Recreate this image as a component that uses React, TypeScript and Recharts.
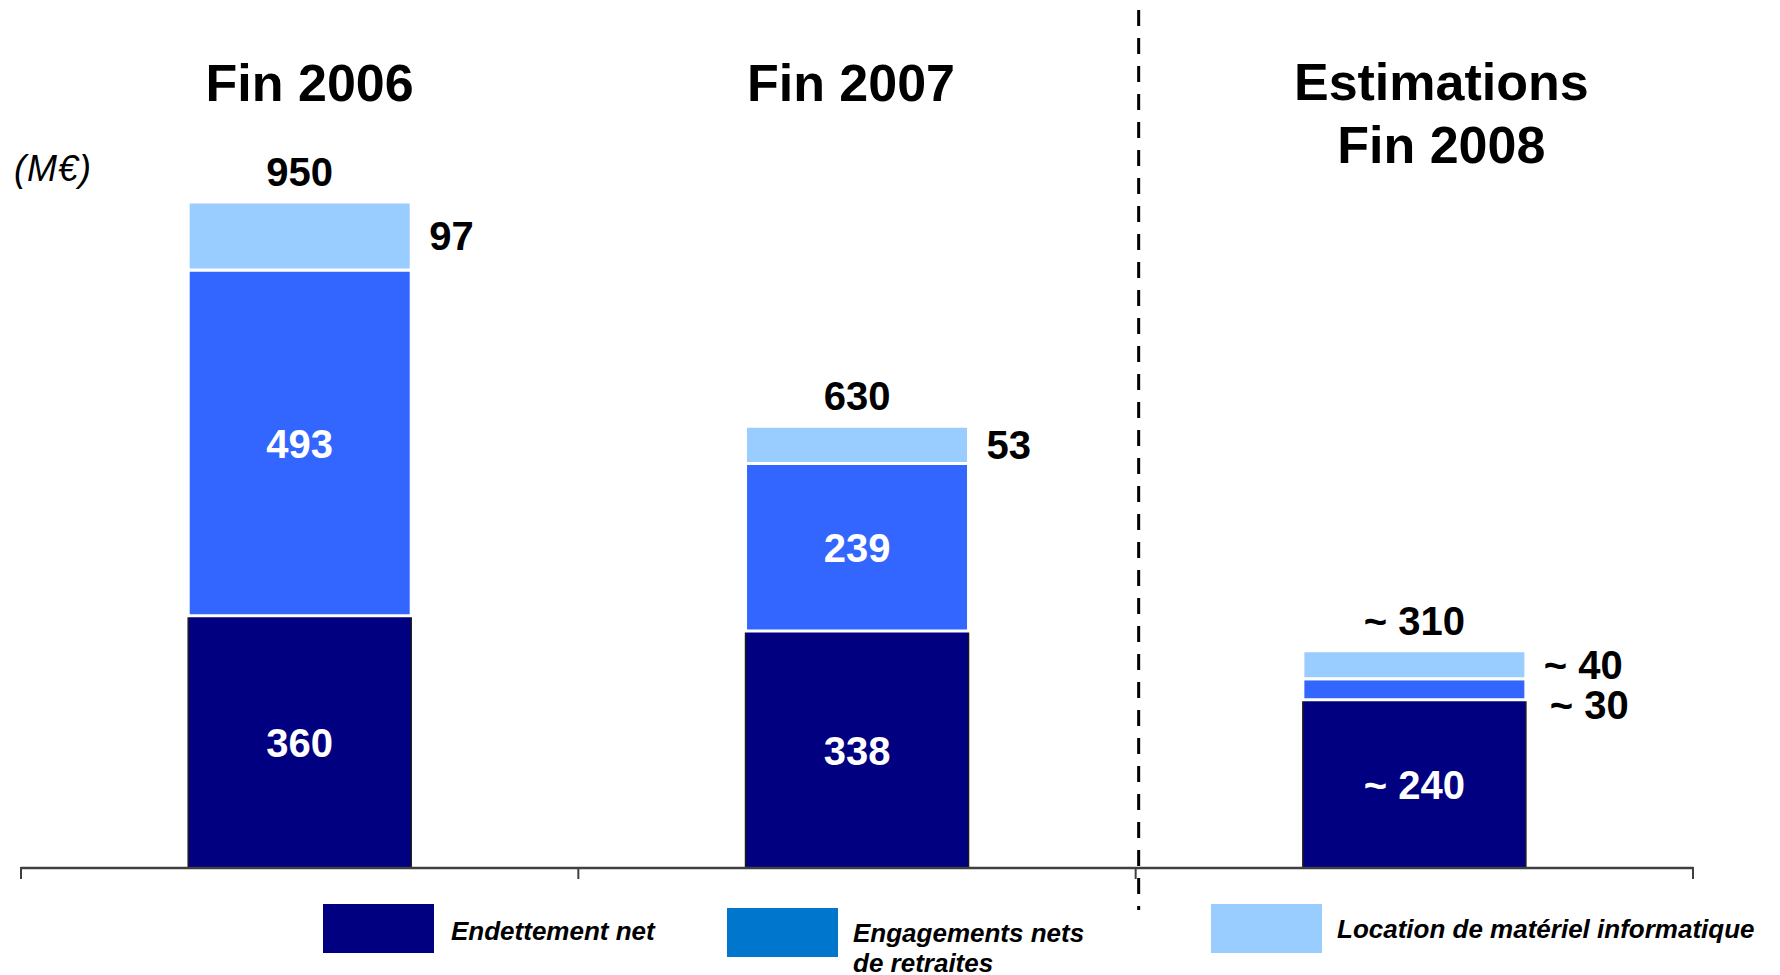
import { BarChart, Bar, XAxis, YAxis, LabelList, ReferenceLine } from 'recharts'

const CATEGORIES = ['Fin 2006', 'Fin 2007', 'Estimations\nFin 2008']
const ENDETTEMENT = [360, 338, 240]
const RETRAITES = [493, 239, 30]
const LOCATION = [97, 53, 40]
const TOTALS = [950, 630, 310]
const ESTIMATED = [false, false, true]
const Y_DOMAIN = [0, 1000]

const SERIES_NAMES = ['Endettement net', 'Engagements nets\nde retraites', 'Location de matériel informatique']
const BAR_COLORS = ['#000080', '#3366FF', '#99CCFF']
const LEGEND_COLORS = ['#000080', '#0077CC', '#99CCFF']

const FONT = '"Liberation Sans", Arial, sans-serif'
const TITLE_NUDGE = [10, -6, 27]

const data = CATEGORIES.map((name, i) => ({
  name,
  endettement: ENDETTEMENT[i],
  retraites: RETRAITES[i],
  location: LOCATION[i],
  total: TOTALS[i],
}))

const fmt = (v: any, i: number) => (ESTIMATED[i] ? `~ ${v}` : `${v}`)

function TitleTick(props: any) {
  const { x, payload, index } = props
  const lines = String(payload.value).split('\n')
  const cx = x + TITLE_NUDGE[index ?? payload.index ?? 0]
  return (
    <text x={cx} textAnchor="middle" fontFamily={FONT} fontSize={52} fontWeight="bold" fill="#000">
      {lines.map((l, k) => (
        <tspan key={k} x={cx} y={lines.length > 1 ? 100 + k * 63 : 101}>
          {l}
        </tspan>
      ))}
    </text>
  )
}

// tick marks sit on the category boundaries, not on the centres
function EdgeTick(props: any) {
  const x = Number(props.x), y = Number(props.y)
  const count = Number(props.visibleTicksCount) || CATEGORIES.length
  let band = Number(props.width) / count
  if (!isFinite(band) || band <= 0) band = 557
  const last = props.index === count - 1
  return (
    <g>
      <line x1={x - band / 2} x2={x - band / 2} y1={y - 1} y2={y + 11} stroke="#404040" strokeWidth={2} />
      {last && <line x1={x + band / 2} x2={x + band / 2} y1={y - 1} y2={y + 11} stroke="#404040" strokeWidth={2} />}
    </g>
  )
}

const valueText = { fontFamily: FONT, fontSize: 40, fontWeight: 'bold' as const }

function InsideLabel(props: any) {
  const x = Number(props.x), y = Number(props.y), w = Number(props.width), h = Number(props.height)
  return (
    <text x={x + w / 2} y={y + h / 2 + 15} textAnchor="middle" fill="#fff" {...valueText}>
      {fmt(props.value, props.index)}
    </text>
  )
}

function RetraitesLabel(props: any) {
  const x = Number(props.x), y = Number(props.y), w = Number(props.width), h = Number(props.height)
  if (h < 60) {
    // too thin: put it outside, a bit lower than the segment
    return (
      <text x={x + w + 24} y={y + h / 2 + 30} fill="#000" {...valueText}>
        {fmt(props.value, props.index)}
      </text>
    )
  }
  return <InsideLabel {...props} />
}

function SideLabel(props: any) {
  const x = Number(props.x), y = Number(props.y), w = Number(props.width), h = Number(props.height)
  return (
    <text x={x + w + 18} y={y + h / 2 + 14} fill="#000" {...valueText}>
      {fmt(props.value, props.index)}
    </text>
  )
}

function TotalLabel(props: any) {
  const x = Number(props.x), y = Number(props.y), w = Number(props.width)
  return (
    <text x={x + w / 2} y={y - 16} textAnchor="middle" fill="#000" {...valueText}>
      {fmt(props.value, props.index)}
    </text>
  )
}

function Divider(props: any) {
  return <line x1={props.x1 + 3} x2={props.x2 + 3} y1={10} y2={910} stroke="#000" strokeWidth={3} strokeDasharray="16 12" />
}

export default function App() {
  const legendPos = [
    { sw: [323, 904], tx: [451, 916] },
    { sw: [727, 908], tx: [853, 918] },
    { sw: [1211, 904], tx: [1337, 914] },
  ]
  return (
    <div style={{ position: 'absolute', left: 0, top: 0, width: 1780, height: 975, background: '#fff', fontFamily: FONT }}>
      <BarChart
        width={1780}
        height={975}
        data={data}
        margin={{ top: 67, right: 87, bottom: 77, left: 21 }}
        barCategoryGap="30%"
      >
        <XAxis xAxisId="top" dataKey="name" orientation="top" height={100} axisLine={false} tickLine={false} interval={0} tick={<TitleTick />} />
        <XAxis
          xAxisId="edges"
          dataKey="name"
          interval={0}
          tickSize={0}
          tickMargin={0}
          tickLine={false}
          tick={<EdgeTick />}
          height={30}
          axisLine={{ stroke: '#404040', strokeWidth: 2.5 }}
        />
        <YAxis hide domain={Y_DOMAIN} />
        <ReferenceLine xAxisId="edges" x={CATEGORIES[2]} position="start" shape={<Divider />} />
        <Bar xAxisId="top" dataKey="endettement" stackId="a" fill={BAR_COLORS[0]} stroke="#1a1a1a" strokeWidth={1.5} isAnimationActive={false}>
          <LabelList dataKey="endettement" content={<InsideLabel />} />
        </Bar>
        <Bar xAxisId="top" dataKey="retraites" stackId="a" fill={BAR_COLORS[1]} stroke="#fff" strokeWidth={3} isAnimationActive={false}>
          <LabelList dataKey="retraites" content={<RetraitesLabel />} />
        </Bar>
        <Bar xAxisId="top" dataKey="location" stackId="a" fill={BAR_COLORS[2]} stroke="#fff" strokeWidth={3} isAnimationActive={false}>
          <LabelList dataKey="location" content={<SideLabel />} />
          <LabelList dataKey="total" content={<TotalLabel />} />
        </Bar>
      </BarChart>

      <div style={{ position: 'absolute', left: 14, top: 151, fontSize: 36, lineHeight: '36px', fontStyle: 'italic', color: '#000', letterSpacing: 1 }}>(M€)</div>

      {SERIES_NAMES.map((name, i) => (
        <div key={name}>
          <div
            style={{
              position: 'absolute',
              left: legendPos[i].sw[0],
              top: legendPos[i].sw[1],
              width: 111,
              height: 49,
              background: LEGEND_COLORS[i],
            }}
          />
          <div
            style={{
              position: 'absolute',
              left: legendPos[i].tx[0],
              top: legendPos[i].tx[1],
              fontSize: 26,
              lineHeight: '30px',
              fontWeight: 'bold',
              fontStyle: 'italic',
              whiteSpace: 'pre',
              color: '#000',
            }}
          >
            {name}
          </div>
        </div>
      ))}
    </div>
  )
}
